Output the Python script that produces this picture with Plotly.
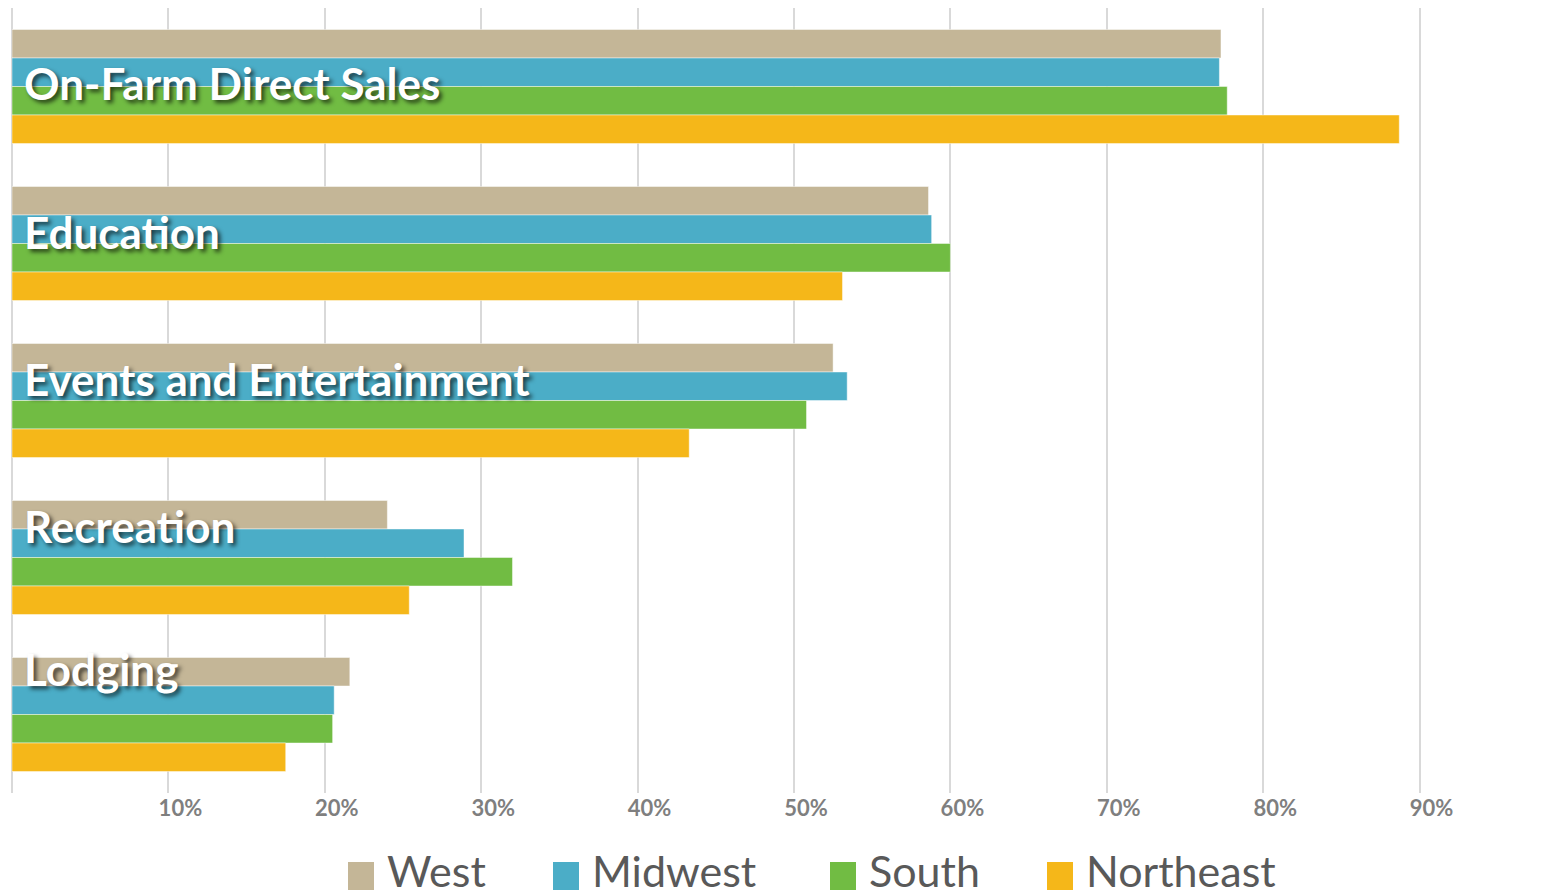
import plotly.graph_objects as go

categories = ["On-Farm Direct Sales", "Education", "Events and Entertainment", "Recreation", "Lodging"]
regions = ["West", "Midwest", "South", "Northeast"]
west = [0.773, 0.586, 0.525, 0.240, 0.216]
midwest = [0.772, 0.588, 0.534, 0.289, 0.206]
south = [0.777, 0.600, 0.508, 0.320, 0.205]
northeast = [0.887, 0.531, 0.433, 0.254, 0.175]
series = [west, midwest, south, northeast]
colors = ["#C4B697", "#4BADC7", "#71BC43", "#F5B719"]
tick_vals = [0.1, 0.2, 0.3, 0.4, 0.5, 0.6, 0.7, 0.8, 0.9]
tick_text = ["10%", "20%", "30%", "40%", "50%", "60%", "70%", "80%", "90%"]

W, H = 1566, 896
ML, MR, MT, MB = 12, 16, 8, 103
PW = W - ML - MR
PH = H - MT - MB

fig = go.Figure()
for name, vals, col in zip(regions, series, colors):
    fig.add_trace(go.Bar(
        y=categories, x=vals, name=name, orientation="h",
        marker=dict(color=col, line=dict(color="rgba(255,255,255,0.45)", width=1)),
        showlegend=False,
    ))

# category labels (white with shadow)
label_shift = [4, 12, 22, 32, 46]
for cat, ys in zip(categories, label_shift):
    fig.add_annotation(
        x=0, y=cat, xref="x", yref="y", xanchor="left", yanchor="middle",
        xshift=10, yshift=ys, showarrow=False, text=cat,
        font=dict(family="Lato", size=44, color="white", weight="bold",
                  shadow="3px 3px 4px rgba(0,0,0,0.65)"),
    )

# manual legend with large square keys
leg_x = [348, 553, 830, 1047]
leg_y = 870
sq_top, sq_bot = 862, 890
for name, col, lx in zip(regions, colors, leg_x):
    x0 = (lx - ML) / PW
    x1 = (lx + 26 - ML) / PW
    y0 = (MT + PH - sq_bot) / PH
    y1 = (MT + PH - sq_top) / PH
    fig.add_shape(type="rect", xref="paper", yref="paper", x0=x0, x1=x1, y0=y0, y1=y1,
                  fillcolor=col, line=dict(width=0))
    fig.add_annotation(
        x=(lx + 37 - ML) / PW, y=(MT + PH - leg_y) / PH, xref="paper", yref="paper",
        xanchor="left", yanchor="middle", showarrow=False, text=name,
        font=dict(family="Lato", size=43, color="#595959"),
    )

fig.update_layout(
    width=W, height=H,
    margin=dict(l=ML, r=MR, t=MT, b=MB),
    plot_bgcolor="white", paper_bgcolor="white",
    barmode="group", bargap=0.274, bargroupgap=0,
    showlegend=False,
    xaxis=dict(
        range=[0, (PW) / 1564], tickvals=tick_vals, ticktext=tick_text,
        showgrid=True, gridcolor="#D9D9D9", gridwidth=1.5,
        zeroline=True, zerolinecolor="#D9D9D9", zerolinewidth=1.5,
        showline=False, ticks="", ticklabelshift=12,
        tickfont=dict(family="Lato", size=22, color="#7F7F7F", weight="bold"),
    ),
    yaxis=dict(autorange="reversed", showticklabels=False, showgrid=False,
               zeroline=False, showline=False, ticks=""),
)

fig.write_html(
    "out.html",
    config={"displayModeBar": False},
    post_script="document.body.style.margin='0';document.body.style.overflow='hidden';",
)
